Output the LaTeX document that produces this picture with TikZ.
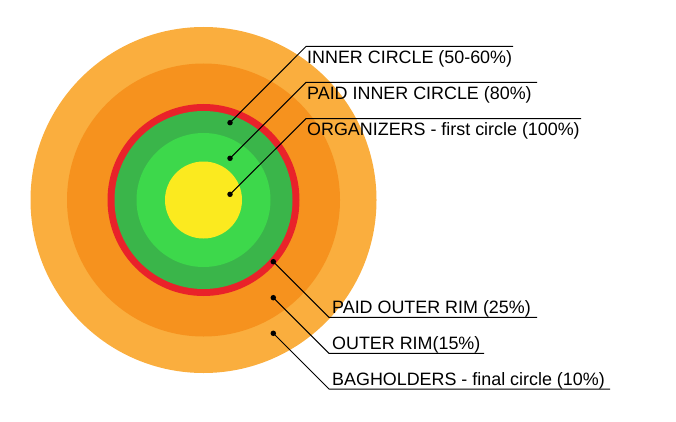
\documentclass[tikz,border=0pt]{standalone}
\usepackage{fontspec}
\setmainfont{Liberation Sans}
\definecolor{lorange}{RGB}{250,174,62}
\definecolor{dorange}{RGB}{246,146,30}
\definecolor{ringred}{RGB}{233,34,42}
\definecolor{dgreen}{RGB}{58,181,74}
\definecolor{lgreen}{RGB}{61,216,75}
\definecolor{cyellow}{RGB}{251,234,31}
\begin{document}
\begin{tikzpicture}[x=1pt,y=-1pt,
  lbl/.style={font=\fontsize{17.9}{20}\selectfont, inner sep=0pt, anchor=base west},
  dotm/.style={circle, fill=black, inner sep=0pt, minimum size=5.5pt},
  conn/.style={black, line width=1pt}]
\useasboundingbox (0,0) rectangle (676,422);
\fill[lorange] (203.5,200) circle (173pt);
\fill[dorange] (203.5,200) circle (136.5pt);
\fill[ringred] (203.5,200) circle (96pt);
\fill[dgreen] (203.5,200) circle (89pt);
\fill[lgreen] (203.5,200) circle (67pt);
\fill[cyellow] (203.5,200) circle (38.5pt);
% dots
\node[dotm] (d1) at (230,122.7) {};
\node[dotm] (d2) at (230,158.3) {};
\node[dotm] (d3) at (230,194.3) {};
\node[dotm] (d4) at (273.3,261.7) {};
\node[dotm] (d5) at (273.3,297.7) {};
\node[dotm] (d6) at (273.3,333.3) {};
% corners
\coordinate (c1) at (306,46.5);  \coordinate (e1) at (513,46.5);
\coordinate (c2) at (306,82.3);  \coordinate (e2) at (537,82.3);
\coordinate (c3) at (306,118.7); \coordinate (e3) at (581,118.7);
\coordinate (c4) at (329,317.3); \coordinate (e4) at (537,317.3);
\coordinate (c5) at (329,353.3); \coordinate (e5) at (484,353.3);
\coordinate (c6) at (329,389);   \coordinate (e6) at (610,389);
% labels
\node[lbl] (t1) at (307,63.5) {INNER CIRCLE (50-60\%)};
\node[lbl] (t2) at (307,99.5) {PAID INNER CIRCLE (80\%)};
\node[lbl] (t3) at (307,136) {ORGANIZERS - first circle (100\%)};
\node[lbl] (t4) at (332,313.3) {PAID OUTER RIM (25\%)};
\node[lbl] (t5) at (332,349.3) {OUTER RIM(15\%)};
\node[lbl] (t6) at (332,385) {BAGHOLDERS - final circle (10\%)};
% connectors
\draw[conn] (d1.center) -- (c1) -- (e1);
\draw[conn] (d2.center) -- (c2) -- (e2);
\draw[conn] (d3.center) -- (c3) -- (e3);
\draw[conn] (d4.center) -- (c4) -- (e4);
\draw[conn] (d5.center) -- (c5) -- (e5);
\draw[conn] (d6.center) -- (c6) -- (e6);
\end{tikzpicture}
\end{document}
